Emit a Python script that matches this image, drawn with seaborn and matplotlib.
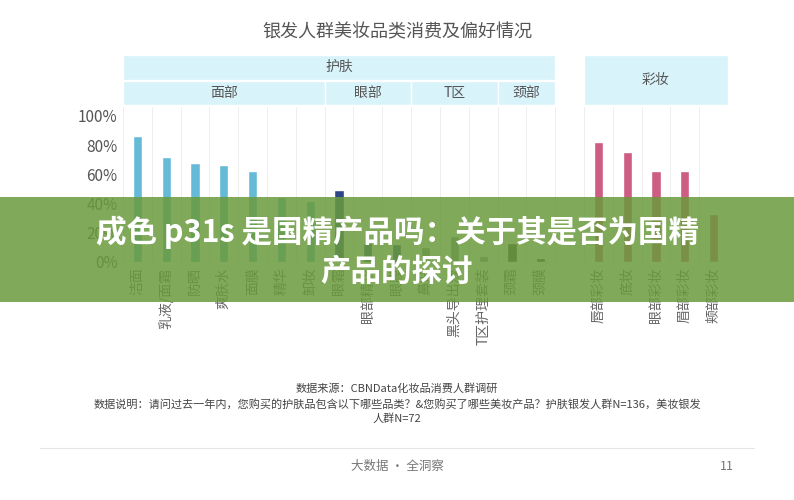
import numpy as np
import matplotlib.pyplot as plt
import seaborn as sns
import pandas as pd
from matplotlib.patches import Rectangle

sns.set_style("white")
plt.rcParams['font.family'] = ['Noto Sans CJK SC', 'DejaVu Sans']

face = ['洁面', '乳液/面霜', '防晒', '爽肤水', '面膜', '精华', '卸妆']
face_v = [0.86, 0.72, 0.68, 0.66, 0.62, 0.445, 0.42]
eye = ['眼霜', '眼部精华', '眼膜']
eye_v = [0.49, 0.13, 0.12]
tzone = ['鼻贴', '黑头导出液', 'T区护理套装']
tzone_v = [0.10, 0.18, 0.04]
neck = ['颈霜', '颈膜']
neck_v = [0.13, 0.03]
makeup = ['唇部彩妆', '底妆', '眼部彩妆', '眉部彩妆', '颊部彩妆']
makeup_v = [0.82, 0.75, 0.62, 0.62, 0.33]

groups = [(face, face_v, '#52c5ea'), (eye, eye_v, '#1f3f95'),
          (tzone, tzone_v, '#8d9aa0'), (neck, neck_v, '#3b4a3a'),
          ([''], [0], '#ffffff'), (makeup, makeup_v, '#e04a7c')]
rows = []
for names, vals, col in groups:
    for n, v in zip(names, vals):
        rows.append((n if n else ' ', v, col))
df = pd.DataFrame(rows, columns=['name', 'value', 'color'])
df['pos'] = np.arange(len(df))

fig = plt.figure(figsize=(7.94, 5), dpi=100)
ax = fig.add_axes([123 / 794, 238 / 500, 605 / 794, 155 / 500])
sns.barplot(data=df, x='pos', y='value', hue='pos', palette=list(df['color']),
            legend=False, width=0.32, ax=ax)
ax.set_xlim(-0.5, len(df) - 0.5)
ax.set_ylim(0, 1.06)
ax.set_yticks([0, 0.2, 0.4, 0.6, 0.8, 1.0])
ax.set_yticklabels(['0%', '20%', '40%', '60%', '80%', '100%'], color='#555555', fontsize=11)
ax.set_xticks(df['pos'])
ax.set_xticklabels(df['name'], rotation=90, color='#666666', fontsize=10)
ax.tick_params(axis='both', length=0, pad=4)
ax.set_xlabel('')
ax.set_ylabel('')
for s in ax.spines.values():
    s.set_visible(False)
ax.axhline(0, color='#d0d0d0', lw=0.8)
for i in range(len(df) + 1):
    ax.axvline(i - 0.5, color='#ebebeb', lw=0.6)

tr = ax.get_xaxis_transform()
hdr = '#d8f3fa'
def box(x0, x1, y0, y1, txt):
    ax.add_patch(Rectangle((x0 - 0.5, y0), x1 - x0, y1 - y0, transform=tr,
                           facecolor=hdr, edgecolor='white', lw=1, clip_on=False))
    ax.text((x0 + x1) / 2 - 0.5, (y0 + y1) / 2, txt, transform=tr, ha='center',
            va='center', fontsize=10, color='#555555')
y1a, y1b = 1.075 / 1.06, 1.24 / 1.06
y2a, y2b = 1.247 / 1.06, 1.418 / 1.06
box(0, 15, y2a, y2b, '护肤')
box(0, 7, y1a, y1b, '面部')
box(7, 10, y1a, y1b, '眼部')
box(10, 13, y1a, y1b, 'T区')
box(13, 15, y1a, y1b, '颈部')
box(16, 21, y1a, y2b, '彩妆')

fig.text(0.5, 1 - 32 / 500, '银发人群美妆品类消费及偏好情况', ha='center', va='center',
         fontsize=13, color='#555555')
fig.text(0.5, 1 - 389 / 500, '数据来源：CBNData化妆品消费人群调研', ha='center',
         va='center', fontsize=8, color='#444444')
fig.text(0.5, 1 - 404 / 500, '数据说明：请问过去一年内，您购买的护肤品包含以下哪些品类？&您购买了哪些美妆产品？护肤银发人群N=136，美妆银发',
         ha='center', va='center', fontsize=8, color='#444444')
fig.text(0.5, 1 - 419 / 500, '人群N=72', ha='center', va='center', fontsize=8, color='#444444')
fig.add_artist(plt.Line2D([0.05, 0.95], [1 - 448 / 500] * 2, color='#e5e5e5', lw=0.8))
fig.text(0.5, 1 - 466 / 500, '大数据 · 全洞察', ha='center', va='center', fontsize=9, color='#777777')
fig.text(727 / 794, 1 - 466 / 500, '11', ha='center', va='center', fontsize=9, color='#777777')

# overlay banner
fig.add_artist(Rectangle((0, 1 - 302 / 500), 1, 105 / 500, transform=fig.transFigure,
                         facecolor='#6a9a3c', alpha=0.85, edgecolor='none'))
fig.text(0.5, 1 - 232 / 500, '成色 p31s 是国精产品吗：关于其是否为国精', ha='center',
         va='center', fontsize=22, color='white', fontweight='bold')
fig.text(0.5, 1 - 272 / 500, '产品的探讨', ha='center', va='center', fontsize=22,
         color='white', fontweight='bold')

fig.savefig('out.png', dpi=100)
